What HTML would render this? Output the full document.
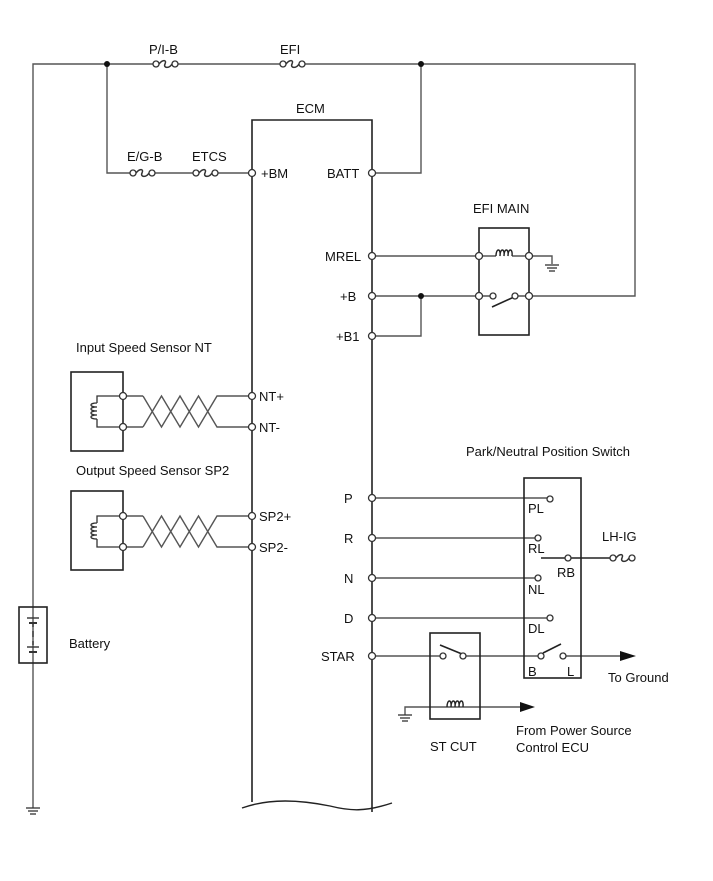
<!DOCTYPE html>
<html><head><meta charset="utf-8"><style>
html,body{margin:0;padding:0;background:#fff}
svg{display:block}
text{font-family:"Liberation Sans",Arial,sans-serif;font-size:13px;fill:#111}
</style></head><body>
<svg width="713" height="881" viewBox="0 0 713 881" xmlns="http://www.w3.org/2000/svg">
<defs>
<g id="fuse"><circle cx="3" cy="0" r="3" fill="#fff" stroke="#333" stroke-width="1.3"/><path d="M6,0 C10,-5 14,-4 12,0 C10,4 16,5 19,0" fill="none" stroke="#333" stroke-width="1.5"/><circle cx="22" cy="0" r="3" fill="#fff" stroke="#333" stroke-width="1.3"/></g>
<g id="coilh"><path d="M0,0 c0,-8 5,-8 4,0 c0,-8 5,-8 4,0 c0,-8 5,-8 4,0 c0,-8 5,-8 4,0" fill="none" stroke="#222" stroke-width="1.4"/></g>
<g id="gnd"><line x1="-7" y1="0" x2="7" y2="0" stroke="#333" stroke-width="1.3"/><line x1="-5" y1="3" x2="5" y2="3" stroke="#333" stroke-width="1.3"/><line x1="-3" y1="6" x2="3" y2="6" stroke="#333" stroke-width="1.3"/></g>
</defs>
<g stroke="#555" stroke-width="1.4" fill="none">
<polyline points="33,808 33,64 153,64"/>
<line x1="178" y1="64" x2="280" y2="64"/>
<polyline points="305,64 635,64 635,296 529,296"/>
<polyline points="107,64 107,173 130,173"/>
<line x1="153" y1="173" x2="193" y2="173"/>
<line x1="217" y1="173" x2="249" y2="173"/>
<polyline points="421,64 421,173 375,173"/>
<line x1="375" y1="256" x2="476" y2="256"/>
<line x1="375" y1="296" x2="476" y2="296"/>
<polyline points="421,296 421,336 375,336"/>
<polyline points="529,256 552,256 552,264"/>
<line x1="123" y1="396" x2="143" y2="396"/><line x1="123" y1="427" x2="143" y2="427"/>
<polyline points="143,396 161.5,427 180,396 198.5,427 217,396 249,396"/>
<polyline points="143,427 161.5,396 180,427 198.5,396 217,427 249,427"/>
<line x1="123" y1="516" x2="143" y2="516"/><line x1="123" y1="547" x2="143" y2="547"/>
<polyline points="143,516 161.5,547 180,516 198.5,547 217,516 249,516"/>
<polyline points="143,547 161.5,516 180,547 198.5,516 217,547 249,547"/>
<line x1="375" y1="498" x2="547" y2="498"/>
<line x1="375" y1="538" x2="535" y2="538"/>
<line x1="375" y1="578" x2="535" y2="578"/>
<line x1="375" y1="618" x2="547" y2="618"/>
<line x1="541" y1="558" x2="610" y2="558" stroke="#222"/>
<line x1="375" y1="656" x2="440" y2="656"/>
<line x1="466" y1="656" x2="538" y2="656"/>
<line x1="566" y1="656" x2="622" y2="656"/>
<polyline points="405,715 405,707 520,707"/>
</g>
<path d="M252,802 L252,120 L372,120 L372,812" fill="none" stroke="#222" stroke-width="1.6"/>
<path d="M242,808 C270,798 300,800 330,806 C350,811 365,812 392,803" fill="none" stroke="#222" stroke-width="1.4"/>
<g fill="none" stroke="#222" stroke-width="1.6">
<rect x="479" y="228" width="50" height="107"/>
<rect x="71" y="372" width="52" height="79"/>
<rect x="71" y="491" width="52" height="79"/>
<rect x="19" y="607" width="28" height="56"/>
<rect x="524" y="478" width="57" height="200"/>
<rect x="430" y="633" width="50" height="86"/>
</g>
<use href="#fuse" x="153" y="64"/><use href="#fuse" x="280" y="64"/>
<use href="#fuse" x="130" y="173"/><use href="#fuse" x="193" y="173"/>
<use href="#fuse" x="610" y="558"/>
<g fill="#111"><circle cx="107" cy="64" r="3"/><circle cx="421" cy="64" r="3"/><circle cx="421" cy="296" r="3"/></g>
<line x1="479" y1="256" x2="496" y2="256" stroke="#333" stroke-width="1.3"/><use href="#coilh" x="496" y="256"/>
<line x1="512" y1="256" x2="529" y2="256" stroke="#333" stroke-width="1.3"/>
<use href="#gnd" x="552" y="265"/>
<line x1="479" y1="296" x2="490" y2="296" stroke="#333" stroke-width="1.3"/>
<line x1="492" y1="307" x2="514" y2="297" stroke="#222" stroke-width="1.6"/>
<line x1="518" y1="296" x2="529" y2="296" stroke="#333" stroke-width="1.3"/>
<g stroke="#333" stroke-width="1.3" fill="none">
<polyline points="123,396 97,396 97,403"/><polyline points="97,419 97,427 123,427"/>
<path d="M97,403 c-8,0 -8,4 0,4 c-8,0 -8,4 0,4 c-8,0 -8,4 0,4 c-8,0 -8,4 0,4"/>
<polyline points="123,516 97,516 97,523"/><polyline points="97,539 97,547 123,547"/>
<path d="M97,523 c-8,0 -8,4 0,4 c-8,0 -8,4 0,4 c-8,0 -8,4 0,4 c-8,0 -8,4 0,4"/>
</g>
<g stroke="#333" stroke-width="1.4">
<line x1="27" y1="618" x2="39" y2="618"/><line x1="29" y1="623" x2="37" y2="623" stroke-width="2"/>
<line x1="33" y1="623" x2="33" y2="627"/><line x1="33" y1="631" x2="33" y2="637"/><line x1="33" y1="641" x2="33" y2="645"/>
<line x1="27" y1="647" x2="39" y2="647"/><line x1="29" y1="652" x2="37" y2="652" stroke-width="2"/>
</g>
<use href="#gnd" x="33" y="808"/>
<line x1="440" y1="645" x2="462" y2="654" stroke="#222" stroke-width="1.6"/>
<use href="#coilh" x="447" y="707"/>
<use href="#gnd" x="405" y="715"/>
<polygon points="520,702 535,707 520,712" fill="#111"/>
<line x1="543" y1="653" x2="561" y2="644" stroke="#222" stroke-width="1.6"/>
<polygon points="620,651 636,656 620,661" fill="#111"/>
<g fill="#fff" stroke="#333" stroke-width="1.3">
<circle cx="252" cy="173" r="3.5"/><circle cx="372" cy="173" r="3.5"/>
<circle cx="372" cy="256" r="3.5"/><circle cx="372" cy="296" r="3.5"/><circle cx="372" cy="336" r="3.5"/>
<circle cx="479" cy="256" r="3.5"/><circle cx="529" cy="256" r="3.5"/>
<circle cx="479" cy="296" r="3.5"/><circle cx="493" cy="296" r="3"/><circle cx="515" cy="296" r="3"/><circle cx="529" cy="296" r="3.5"/>
<circle cx="123" cy="396" r="3.5"/><circle cx="123" cy="427" r="3.5"/><circle cx="252" cy="396" r="3.5"/><circle cx="252" cy="427" r="3.5"/>
<circle cx="123" cy="516" r="3.5"/><circle cx="123" cy="547" r="3.5"/><circle cx="252" cy="516" r="3.5"/><circle cx="252" cy="547" r="3.5"/>
<circle cx="372" cy="498" r="3.5"/><circle cx="372" cy="538" r="3.5"/><circle cx="372" cy="578" r="3.5"/><circle cx="372" cy="618" r="3.5"/><circle cx="372" cy="656" r="3.5"/>
<circle cx="550" cy="499" r="3"/><circle cx="538" cy="538" r="3"/><circle cx="568" cy="558" r="3"/><circle cx="538" cy="578" r="3"/><circle cx="550" cy="618" r="3"/>
<circle cx="443" cy="656" r="3"/><circle cx="463" cy="656" r="3"/><circle cx="541" cy="656" r="3"/><circle cx="563" cy="656" r="3"/>
</g>
<text x="149" y="54">P/I-B</text>
<text x="280" y="54">EFI</text>
<text x="296" y="113">ECM</text>
<text x="127" y="161">E/G-B</text>
<text x="192" y="161">ETCS</text>
<text x="261" y="178">+BM</text>
<text x="327" y="178">BATT</text>
<text x="473" y="213">EFI MAIN</text>
<text x="325" y="261">MREL</text>
<text x="340" y="301">+B</text>
<text x="336" y="341">+B1</text>
<text x="76" y="352">Input Speed Sensor NT</text>
<text x="259" y="401">NT+</text>
<text x="259" y="432">NT-</text>
<text x="76" y="475">Output Speed Sensor SP2</text>
<text x="259" y="521">SP2+</text>
<text x="259" y="552">SP2-</text>
<text x="466" y="456">Park/Neutral Position Switch</text>
<text x="344" y="503">P</text>
<text x="344" y="543">R</text>
<text x="344" y="583">N</text>
<text x="344" y="623">D</text>
<text x="321" y="661">STAR</text>
<text x="528" y="513">PL</text>
<text x="528" y="553">RL</text>
<text x="557" y="577">RB</text>
<text x="528" y="594">NL</text>
<text x="528" y="633">DL</text>
<text x="602" y="541">LH-IG</text>
<text x="528" y="676">B</text>
<text x="567" y="676">L</text>
<text x="608" y="682">To Ground</text>
<text x="69" y="648">Battery</text>
<text x="516" y="735">From Power Source</text>
<text x="516" y="752">Control ECU</text>
<text x="430" y="751">ST CUT</text>
</svg>
</body></html>
